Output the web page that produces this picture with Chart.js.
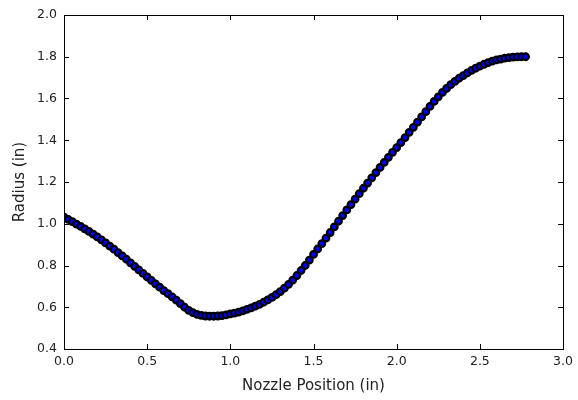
<!DOCTYPE html>
<html>
<head>
<meta charset="utf-8">
<script src="https://cdn.jsdelivr.net/npm/chart.js@4/dist/chart.umd.min.js"></script>
<style>
  html, body { margin: 0; padding: 0; background: #fff; }
  #wrap { width: 578px; height: 400px; }
</style>
</head>
<body>
<div id="wrap"><canvas id="nozzleChart" width="578" height="400"></canvas></div>
<script>
// nozzle contour
const positions = [
  0.000, 0.025, 0.050, 0.075, 0.100, 0.125, 0.150, 0.175, 0.200, 0.225,
  0.250, 0.275, 0.300, 0.325, 0.350, 0.375, 0.400, 0.425, 0.450, 0.475,
  0.500, 0.525, 0.550, 0.575, 0.600, 0.625, 0.650, 0.675, 0.700, 0.725,
  0.750, 0.775, 0.800, 0.825, 0.850, 0.875, 0.900, 0.925, 0.950, 0.975,
  1.000, 1.025, 1.050, 1.075, 1.100, 1.125, 1.150, 1.175, 1.200, 1.225,
  1.250, 1.275, 1.300, 1.325, 1.350, 1.375, 1.400, 1.425, 1.450, 1.475,
  1.500, 1.525, 1.550, 1.575, 1.600, 1.625, 1.650, 1.675, 1.700, 1.725,
  1.750, 1.775, 1.800, 1.825, 1.850, 1.875, 1.900, 1.925, 1.950, 1.975,
  2.000, 2.025, 2.050, 2.075, 2.100, 2.125, 2.150, 2.175, 2.200, 2.225,
  2.250, 2.275, 2.300, 2.325, 2.350, 2.375, 2.400, 2.425, 2.450, 2.475,
  2.500, 2.525, 2.550, 2.575, 2.600, 2.625, 2.650, 2.675, 2.700, 2.725,
  2.750, 2.775
];
const radii = [
  1.032, 1.021, 1.010, 0.998, 0.987, 0.975, 0.963, 0.950, 0.937, 0.923,
  0.908, 0.893, 0.878, 0.862, 0.846, 0.830, 0.813, 0.796, 0.779, 0.762,
  0.745, 0.729, 0.712, 0.696, 0.680, 0.665, 0.650, 0.634, 0.617, 0.600,
  0.585, 0.574, 0.566, 0.561, 0.558, 0.557, 0.557, 0.558, 0.560, 0.563,
  0.568, 0.572, 0.577, 0.583, 0.590, 0.597, 0.605, 0.614, 0.624, 0.635,
  0.647, 0.660, 0.675, 0.692, 0.710, 0.730, 0.752, 0.776, 0.800, 0.826,
  0.853, 0.879, 0.905, 0.931, 0.958, 0.985, 1.012, 1.039, 1.066, 1.092,
  1.118, 1.144, 1.170, 1.195, 1.220, 1.245, 1.270, 1.294, 1.318, 1.342,
  1.365, 1.389, 1.413, 1.438, 1.462, 1.487, 1.512, 1.537, 1.562, 1.586,
  1.608, 1.629, 1.648, 1.666, 1.682, 1.697, 1.710, 1.723, 1.735, 1.745,
  1.755, 1.764, 1.772, 1.779, 1.785, 1.789, 1.793, 1.796, 1.798, 1.799,
  1.800, 1.800
];
const xTicks = [0.0, 0.5, 1.0, 1.5, 2.0, 2.5, 3.0];
const yTicks = [0.4, 0.6, 0.8, 1.0, 1.2, 1.4, 1.6, 1.8, 2.0];

const points = positions.map((x, i) => ({ x: x, y: radii[i] }));

// matplotlib-style box with inward ticks on every side
const frameTicks = {
  id: 'frameTicks',
  afterDatasetsDraw(chart) {
    const ctx = chart.ctx;
    const a = chart.chartArea;
    const xs = chart.scales.x;
    const ys = chart.scales.y;
    const len = 5;
    ctx.save();
    ctx.strokeStyle = '#000';
    ctx.lineWidth = 1;
    ctx.beginPath();
    xTicks.forEach(v => {
      const px = Math.round(xs.getPixelForValue(v)) + 0.5;
      ctx.moveTo(px, a.bottom); ctx.lineTo(px, a.bottom - len);
      ctx.moveTo(px, a.top); ctx.lineTo(px, a.top + len);
    });
    yTicks.forEach(v => {
      const py = Math.round(ys.getPixelForValue(v)) + 0.5;
      ctx.moveTo(a.left, py); ctx.lineTo(a.left + len, py);
      ctx.moveTo(a.right, py); ctx.lineTo(a.right - len, py);
    });
    ctx.stroke();
    ctx.strokeRect(Math.round(a.left) + 0.5, Math.round(a.top) + 0.5,
      Math.round(a.right - a.left), Math.round(a.bottom - a.top));
    ctx.restore();
  }
};

const tickFont = { family: 'DejaVu Sans', size: 12.5 };
const labelFont = { family: 'DejaVu Sans', size: 15 };

new Chart(document.getElementById('nozzleChart'), {
  type: 'scatter',
  data: {
    datasets: [{
      data: points,
      backgroundColor: '#0000ff',
      borderColor: '#000000',
      borderWidth: 2.2,
      pointRadius: 3.3,
      pointHoverRadius: 3.3
    }]
  },
  options: {
    responsive: false,
    animation: false,
    events: [],
    layout: { padding: { top: 15, right: 12, left: 0, bottom: 0 } },
    plugins: {
      legend: { display: false },
      tooltip: { enabled: false }
    },
    scales: {
      x: {
        type: 'linear',
        min: 0, max: 3,
        grid: { display: false, drawTicks: false },
        border: { display: false },
        afterFit: (s) => { s.height = 51; },
        afterBuildTicks: (s) => { s.ticks = xTicks.map(v => ({ value: v })); },
        ticks: {
          padding: 5,
          color: '#222',
          font: tickFont,
          maxRotation: 0,
          callback: (v) => Number(v).toFixed(1)
        },
        title: {
          display: true,
          text: 'Nozzle Position (in)',
          color: '#222',
          font: labelFont,
          padding: { top: 2, bottom: 5 }
        }
      },
      y: {
        type: 'linear',
        min: 0.4, max: 2.0,
        grid: { display: false, drawTicks: false },
        border: { display: false },
        afterFit: (s) => { s.width = 64; },
        afterBuildTicks: (s) => { s.ticks = yTicks.map(v => ({ value: v })); },
        ticks: {
          padding: 7,
          color: '#222',
          font: tickFont,
          callback: (v) => Number(v).toFixed(1)
        },
        title: {
          display: true,
          text: 'Radius (in)',
          color: '#222',
          font: labelFont,
          padding: { top: 11, bottom: 2 }
        }
      }
    }
  },
  plugins: [frameTicks]
});
</script>
</body>
</html>
